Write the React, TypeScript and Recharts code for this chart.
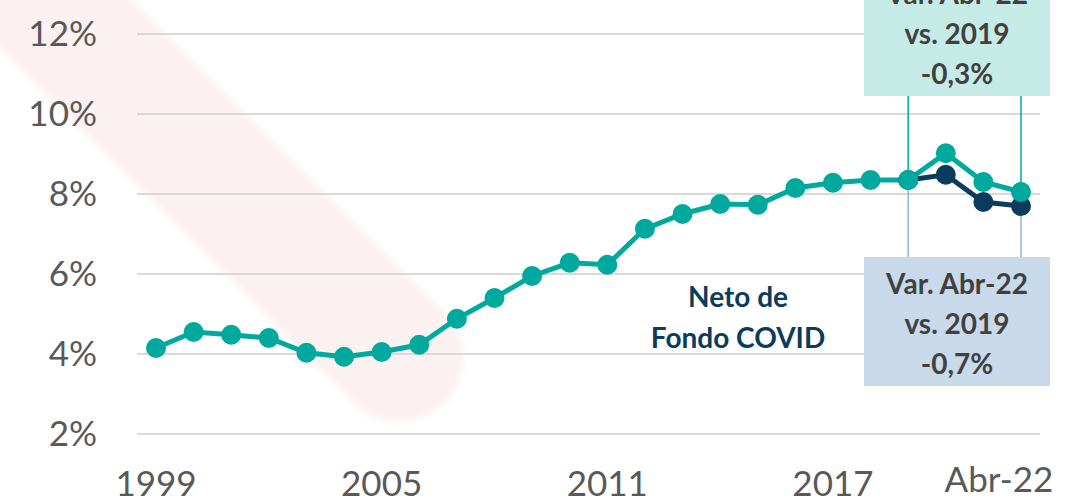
import React from 'react';
import { LineChart, Line, XAxis, YAxis, CartesianGrid, ReferenceLine } from 'recharts';

const years = [
  '1999', '2000', '2001', '2002', '2003', '2004', '2005', '2006', '2007', '2008', '2009', '2010',
  '2011', '2012', '2013', '2014', '2015', '2016', '2017', '2018', '2019', '2020', '2021', 'Abr-22',
];
const totalValues = [
  4.15, 4.55, 4.48, 4.4, 4.03, 3.93, 4.05, 4.23, 4.88, 5.4, 5.95, 6.28,
  6.23, 7.13, 7.5, 7.75, 7.73, 8.15, 8.28, 8.35, 8.35, 9.02, 8.3, 8.05,
];
const netoValues: (number | null)[] = [
  null, null, null, null, null, null, null, null, null, null, null, null,
  null, null, null, null, null, null, null, null, 8.35, 8.48, 7.8, 7.7,
];
const yTicks = [2, 4, 6, 8, 10, 12];
const xLabels = ['1999', '2005', '2011', '2017', 'Abr-22'];

const data = years.map((year, i) => ({
  year,
  total: totalValues[i],
  neto: netoValues[i],
}));

const TEAL = '#00a99d';
const NAVY = '#0b3c5d';
const FONT = 'Lato, "Open Sans", sans-serif';

const XTick = (props: any) => {
  const { x, y, payload } = props;
  if (!xLabels.includes(payload.value)) return null;
  const last = payload.value === 'Abr-22';
  return (
    <text
      x={x}
      y={y}
      dx={last ? -22 : 0}
      dy={last ? 50 : 54}
      textAnchor="middle"
      fill="#595959"
      fontSize={35}
      fontFamily={FONT}
    >
      {payload.value}
    </text>
  );
};

const YTick = (props: any) => {
  const { x, y, payload } = props;
  return (
    <text
      x={x}
      y={y}
      dx={-32}
      dy={12}
      textAnchor="end"
      fill="#595959"
      fontSize={35}
      fontFamily={FONT}
    >
      {`${payload.value}%`}
    </text>
  );
};

const boxText: React.CSSProperties = {
  position: 'absolute',
  width: 186,
  height: 129,
  boxSizing: 'border-box',
  paddingTop: 6,
  textAlign: 'center',
  fontFamily: FONT,
  fontWeight: 700,
  fontSize: 28,
  lineHeight: '40px',
  color: '#404040',
};

export default function App() {
  return (
    <div
      style={{
        position: 'absolute',
        left: 0,
        top: 0,
        width: 1091,
        height: 504,
        overflow: 'hidden',
        background: '#fff',
      }}
    >
      {/* marca de agua */}
      <div
        style={{
          position: 'absolute',
          left: -100,
          top: -206,
          width: 770,
          height: 129,
          borderRadius: 64,
          background: '#fcf1f1',
          filter: 'blur(3px)',
          transform: 'rotate(45deg)',
          transformOrigin: '0 50%',
        }}
      />
      <div style={{ position: 'absolute', left: 0, top: 0 }}>
        <LineChart
          width={1091}
          height={504}
          data={data}
          margin={{ top: 34, right: 51, left: 0, bottom: 0 }}
        >
          <CartesianGrid vertical={false} stroke="#d9d9d9" strokeWidth={2} />
          <XAxis
            dataKey="year"
            interval={0}
            height={70}
            padding={{ left: 19, right: 19 }}
            axisLine={false}
            tickLine={false}
            tick={<XTick />}
          />
          <YAxis
            domain={[2, 12]}
            ticks={yTicks}
            width={137}
            axisLine={false}
            tickLine={false}
            tick={<YTick />}
          />
          <ReferenceLine
            segment={[{ x: '2019', y: 10.45 }, { x: '2019', y: 8.35 }]}
            stroke={TEAL}
            strokeWidth={1.5}
            ifOverflow="visible"
          />
          <ReferenceLine
            segment={[{ x: 'Abr-22', y: 10.45 }, { x: 'Abr-22', y: 8.05 }]}
            stroke={TEAL}
            strokeWidth={1.5}
            ifOverflow="visible"
          />
          <ReferenceLine
            segment={[{ x: '2019', y: 8.1 }, { x: '2019', y: 6.42 }]}
            stroke="#8eb4dc"
            strokeWidth={1.5}
            ifOverflow="visible"
          />
          <ReferenceLine
            segment={[{ x: 'Abr-22', y: 7.45 }, { x: 'Abr-22', y: 6.42 }]}
            stroke="#8eb4dc"
            strokeWidth={1.5}
            ifOverflow="visible"
          />
          <Line
            dataKey="neto"
            stroke={NAVY}
            strokeWidth={5}
            dot={{ r: 10, fill: NAVY, stroke: 'none' }}
            activeDot={false}
            connectNulls={false}
            isAnimationActive={false}
          />
          <Line
            dataKey="total"
            stroke={TEAL}
            strokeWidth={5}
            dot={{ r: 10, fill: TEAL, stroke: 'none' }}
            activeDot={false}
            isAnimationActive={false}
          />
        </LineChart>
      </div>
      <div style={{ ...boxText, left: 864, top: -33, background: '#c6ebe7' }}>
        Var. Abr-22
        <br />
        vs. 2019
        <br />
        -0,3%
      </div>
      <div style={{ ...boxText, left: 864, top: 257, background: '#c8d9ea' }}>
        Var. Abr-22
        <br />
        vs. 2019
        <br />
        -0,7%
      </div>
      <div
        style={{
          position: 'absolute',
          left: 628,
          top: 276,
          width: 220,
          textAlign: 'center',
          fontFamily: FONT,
          fontWeight: 700,
          fontSize: 28,
          lineHeight: '41px',
          color: NAVY,
        }}
      >
        Neto de
        <br />
        Fondo COVID
      </div>
    </div>
  );
}
